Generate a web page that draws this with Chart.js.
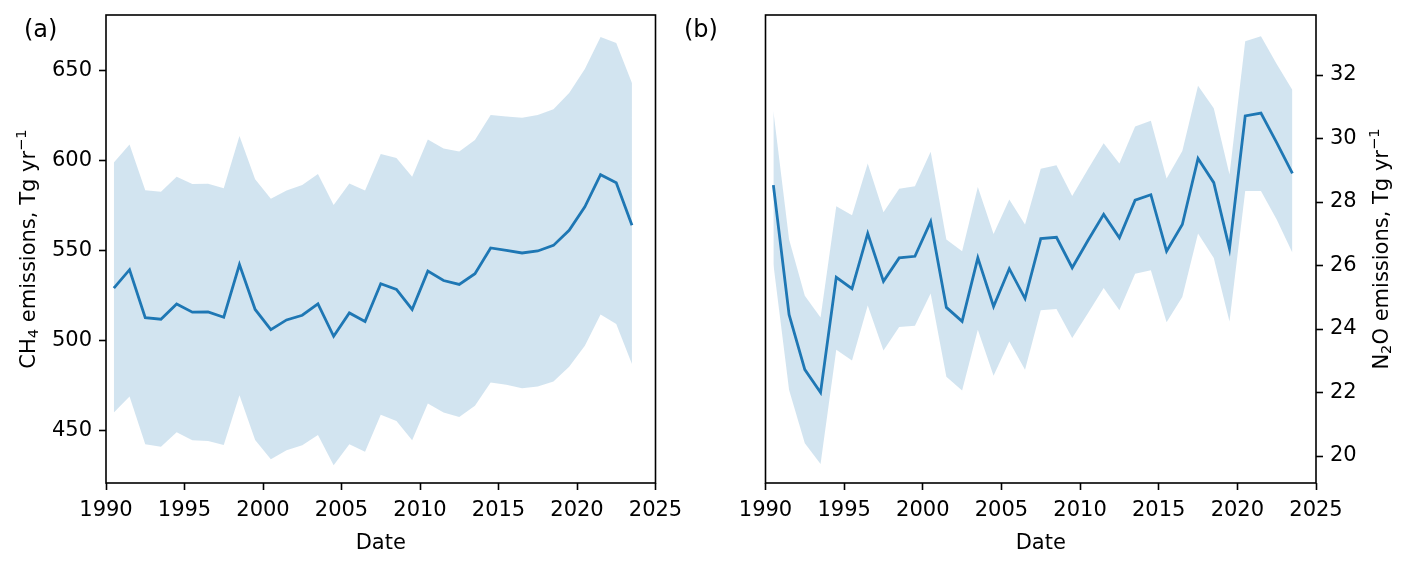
<!DOCTYPE html>
<html><head><meta charset="utf-8">
<script src="https://cdn.jsdelivr.net/npm/chart.js@4.4.1/dist/chart.umd.min.js"></script>
<style>
html,body{margin:0;padding:0;background:#fff;width:1406px;height:564px;overflow:hidden;}
#c1{position:absolute;left:0;top:0;}
#c2{position:absolute;left:660px;top:0;}
</style></head><body>
<canvas id="c1" width="703" height="564"></canvas>
<canvas id="c2" width="746" height="564"></canvas>
<script>
// ---- data ----
const dates = [1990.5,1991.5,1992.5,1993.5,1994.5,1995.5,1996.5,1997.5,1998.5,1999.5,
  2000.5,2001.5,2002.5,2003.5,2004.5,2005.5,2006.5,2007.5,2008.5,2009.5,
  2010.5,2011.5,2012.5,2013.5,2014.5,2015.5,2016.5,2017.5,2018.5,2019.5,
  2020.5,2021.5,2022.5,2023.5];
const ch4Mean = [529.2,539.4,512.8,511.9,520.4,515.8,516.0,513.0,542.2,517.3,
  506.1,511.5,514.1,520.4,502.4,515.4,510.6,531.6,528.4,517.3,
  538.6,533.4,531.2,537.2,551.5,550.2,548.7,549.8,552.9,561.3,
  574.3,592.2,587.7,564.1];
const ch4Upper = [598.9,608.9,583.6,582.7,591.0,587.0,587.1,584.7,613.7,589.6,
  578.8,583.4,586.4,592.5,575.4,587.3,583.4,603.7,601.5,591.0,
  611.8,606.8,605.0,611.5,625.4,624.5,623.8,625.4,628.6,637.5,
  650.9,668.7,665.4,643.1];
const ch4Lower = [460.0,469.0,442.4,441.1,449.1,444.6,444.3,442.0,469.7,444.8,
  434.1,439.1,441.9,447.6,430.7,442.4,438.3,458.8,455.4,444.6,
  465.1,460.0,457.6,463.8,476.8,475.5,473.6,474.5,477.3,485.5,
  497.2,514.5,509.3,487.0];
const n2oMean = [28.53,24.45,22.72,22.00,25.63,25.27,27.01,25.50,26.24,26.29,
  27.38,24.68,24.24,26.24,24.71,25.90,24.96,26.85,26.89,25.93,
  26.79,27.61,26.87,28.06,28.23,26.45,27.29,29.37,28.61,26.53,
  30.71,30.80,29.87,28.90];
const n2oUpper = [30.87,26.82,25.05,24.36,27.87,27.58,29.21,27.68,28.42,28.50,
  29.58,26.82,26.45,28.47,26.99,28.08,27.29,29.05,29.16,28.19,
  29.03,29.85,29.21,30.38,30.56,28.74,29.61,31.66,30.95,28.87,
  33.06,33.22,32.35,31.53];
const n2oLower = [26.05,22.08,20.40,19.75,23.35,23.01,24.74,23.32,24.06,24.10,
  25.12,22.50,22.06,23.98,22.53,23.61,22.72,24.59,24.63,23.72,
  24.50,25.29,24.59,25.74,25.85,24.21,25.01,27.01,26.24,24.24,
  28.35,28.35,27.45,26.40];
const yearTicks = [1990,1995,2000,2005,2010,2015,2020,2025];
const ch4Ticks = [450,500,550,600,650];
const n2oTicks = [20,22,24,26,28,30,32];
// axis titles as [text, role] pieces: n = normal, sub = subscript, sup = superscript
const ch4Title = [['CH','n'],['4','sub'],[' emissions, Tg yr','n'],['\u22121','sup']];
const n2oTitle = [['N','n'],['2','sub'],['O emissions, Tg yr','n'],['\u22121','sup']];
const xTitle = 'Date';

// ---- styling ----
const FONT = 'DejaVu Sans';
const BLUE = '#1f77b4';
const BAND = 'rgba(31,119,180,0.2)';

const framePlugin = {
  id: 'frame',
  afterDraw(chart, args, opts) {
    const {ctx, chartArea: a} = chart;
    ctx.save();
    ctx.strokeStyle = '#000';
    ctx.lineWidth = 1.6;
    ctx.strokeRect(a.left, a.top, a.right - a.left, a.bottom - a.top);
    ctx.fillStyle = '#000';
    // panel label
    ctx.font = '24px "' + FONT + '"';
    ctx.textBaseline = 'middle';
    ctx.textAlign = 'left';
    ctx.fillText(opts.label, opts.x, opts.y);
    // rotated y-axis title with sub/superscripts
    const big = 21, small = 14.7;
    ctx.textBaseline = 'alphabetic';
    let total = 0;
    const w = opts.title.map(([t, r]) => {
      ctx.font = (r === 'n' ? big : small) + 'px "' + FONT + '"';
      const m = ctx.measureText(t).width;
      total += m;
      return m;
    });
    const cy = (a.top + a.bottom) / 2;
    ctx.translate(opts.titleBaseX, cy);
    ctx.rotate(-Math.PI / 2);
    let x = -total / 2;
    opts.title.forEach(([t, r], i) => {
      ctx.font = (r === 'n' ? big : small) + 'px "' + FONT + '"';
      const dy = r === 'sub' ? 3.5 : (r === 'sup' ? -8.5 : 0);
      ctx.fillText(t, x, dy);
      x += w[i];
    });
    ctx.restore();
  }
};

function pts(ys) { return ys.map((y, i) => ({x: dates[i], y: y})); }

function makeChart(id, cfg) {
  const tickFont = {family: FONT, size: 21};
  const titleFont = {family: FONT, size: 21, lineHeight: 1.2};
  const grid = {display: true, drawOnChartArea: false, drawTicks: true, tickLength: 7,
                tickWidth: 1.6, tickColor: '#000'};
  return new Chart(document.getElementById(id), {
    type: 'line',
    data: {
      datasets: [
        {data: pts(cfg.lower), borderWidth: 0, pointRadius: 0, fill: false, borderColor: 'rgba(0,0,0,0)'},
        {data: pts(cfg.upper), borderWidth: 0, pointRadius: 0, fill: '-1', backgroundColor: BAND, borderColor: 'rgba(0,0,0,0)'},
        {data: pts(cfg.mean), borderColor: BLUE, borderWidth: 2.8, pointRadius: 0, fill: false, tension: 0}
      ]
    },
    options: {
      responsive: false,
      animation: false,
      layout: {padding: cfg.padding},
      plugins: {legend: {display: false}, tooltip: {enabled: false},
                frame: {label: cfg.label, x: cfg.labelX, y: 31, title: cfg.yTitle, titleBaseX: cfg.titleBaseX}},
      scales: {
        x: {
          type: 'linear', min: 1990, max: 2025,
          afterBuildTicks: s => { s.ticks = yearTicks.map(v => ({value: v})); },
          afterFit: s => { s.height = 81; },
          grid: grid, border: {display: false},
          ticks: {font: tickFont, color: '#000', padding: 8, maxRotation: 0, autoSkip: false,
                  callback: v => String(v)},
          title: {display: true, text: xTitle, font: titleFont, color: '#000', padding: {top: 0, bottom: 8}}
        },
        y: {
          type: 'linear', position: cfg.yPos, min: cfg.yMin, max: cfg.yMax,
          afterBuildTicks: s => { s.ticks = cfg.yTicks.map(v => ({value: v})); },
          afterFit: s => { s.width = cfg.yWidth; s.paddingTop = 0; s.paddingBottom = 0; },
          grid: grid, border: {display: false},
          ticks: {font: tickFont, color: '#000', padding: 7, autoSkip: false,
                  callback: v => String(v)},
          title: {display: false}
        }
      }
    },
    plugins: [framePlugin]
  });
}

makeChart('c1', {
  lower: ch4Lower, upper: ch4Upper, mean: ch4Mean,
  yMin: 420.9, yMax: 680.9, yTicks: ch4Ticks, yTitle: ch4Title, yPos: 'left',
  padding: {left: 0, top: 15, right: 47.5, bottom: 0}, yWidth: 106, titleBaseX: 34.5,
  label: '(a)', labelX: 24
});
makeChart('c2', {
  lower: n2oLower, upper: n2oUpper, mean: n2oMean,
  yMin: 19.15, yMax: 33.89, yTicks: n2oTicks, yTitle: n2oTitle, yPos: 'right',
  padding: {left: 105.5, top: 15, right: 0, bottom: 0}, yWidth: 90, titleBaseX: 1387.5 - 660,
  label: '(b)', labelX: 24
});
</script>
</body></html>
